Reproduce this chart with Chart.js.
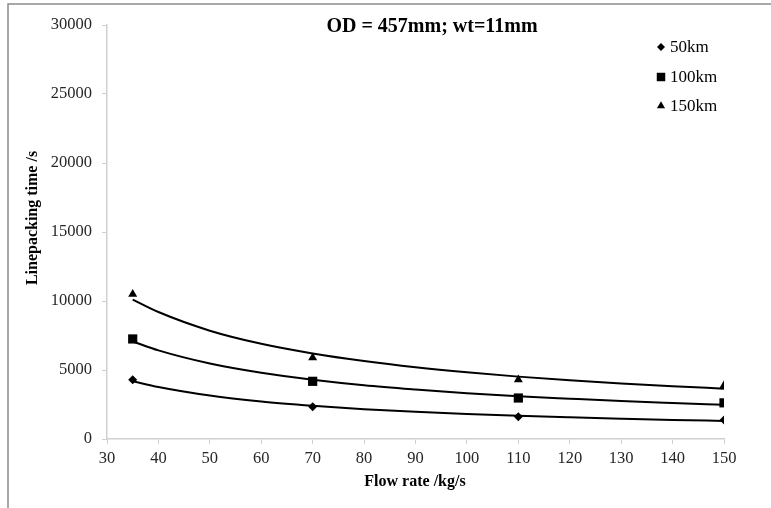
<!DOCTYPE html>
<html>
<head>
<meta charset="utf-8">
<script src="https://cdn.jsdelivr.net/npm/chart.js@4/dist/chart.umd.min.js"></script>
<style>
  html, body { margin: 0; padding: 0; background: #fff; }
  #wrap { width: 771px; height: 508px; position: relative; }
</style>
</head>
<body>
<div id="wrap"><canvas id="linepackChart" width="771" height="508"></canvas></div>
<script>
/**measured flow rates, kg/s */
const flowRates = [35, 70, 110, 150];
/**linepacking time per pipeline length, s */
const time50km = [4300, 2330, 1620, 1370];
const time100km = [7250, 4180, 2970, 2620];
const time150km = [10500, 5900, 4300, 3880];
/**trend curves */
const trendX = [35, 40, 50, 60, 70, 80, 90, 100, 110, 120, 130, 140, 150];
const trend50km = [4190, 3770, 3150, 2720, 2410, 2160, 1970, 1810, 1680, 1570, 1470, 1380, 1310];
const trend100km = [7070, 6420, 5470, 4800, 4300, 3900, 3590, 3320, 3100, 2920, 2750, 2610, 2480];
const trend150km = [10100, 9200, 7850, 6900, 6200, 5650, 5200, 4830, 4520, 4250, 4020, 3820, 3650];
const seriesLabels = ["50km", "100km", "150km"];
const xTicks = [30, 40, 50, 60, 70, 80, 90, 100, 110, 120, 130, 140, 150];
const yTicks = [0, 5000, 10000, 15000, 20000, 25000, 30000];
const chartTitle = "OD = 457mm; wt=11mm";
const xTitle = "Flow rate /kg/s";
const yTitle = "Linepacking time /s";

const FONT = "'Liberation Serif', 'Times New Roman', serif";
const markerStyles = [
    { pointStyle: "rectRot", radius: 4.5 },
    { pointStyle: "rect", radius: 6.5 },
    { pointStyle: "triangle", radius: 5.2 },
];

const toPoints = (xs, ys) => xs.map((x, i) => ({ x: x, y: ys[i] }));

function trendSet(ys) {
    return {
        type: "line",
        data: toPoints(trendX, ys),
        borderColor: "#000",
        borderWidth: 2,
        pointRadius: 0,
        fill: false,
        cubicInterpolationMode: "monotone",
        order: 2,
    };
}

function markerSet(ys, i) {
    return {
        label: seriesLabels[i],
        data: toPoints(flowRates, ys),
        showLine: false,
        backgroundColor: "#000",
        borderColor: "#000",
        borderWidth: 0,
        pointStyle: markerStyles[i].pointStyle,
        pointRadius: markerStyles[i].radius,
        order: 1,
    };
}

/**draws the frame, title, axis titles and legend at fixed spots */
const decorations = {
    id: "decorations",
    beforeDraw(chart) {
        const c = chart.ctx;
        c.save();
        c.fillStyle = "#fff";
        c.fillRect(0, 0, chart.width, chart.height);
        c.strokeStyle = "#8c8c8c";
        c.lineWidth = 1.5;
        c.beginPath();
        c.moveTo(8, chart.height);
        c.lineTo(8, 4);
        c.lineTo(chart.width, 4);
        c.stroke();
        c.restore();
    },
    afterDraw(chart) {
        const c = chart.ctx;
        c.save();
        c.fillStyle = "#000";
        c.textAlign = "center";
        c.textBaseline = "middle";
        c.font = "bold 20px " + FONT;
        c.fillText(chartTitle, 432, 27);
        c.font = "bold 16px " + FONT;
        c.fillText(xTitle, 415, 482);
        c.translate(33, 218);
        c.rotate(-Math.PI / 2);
        c.fillText(yTitle, 0, 0);
        c.restore();

        c.save();
        c.font = "17px " + FONT;
        c.textAlign = "left";
        c.textBaseline = "middle";
        const rows = [47, 77, 106];
        seriesLabels.forEach((label, i) => {
            c.fillStyle = "#000";
            c.strokeStyle = "#000";
            c.lineWidth = 0;
            Chart.helpers.drawPoint(c, {
                pointStyle: markerStyles[i].pointStyle,
                radius: markerStyles[i].radius - 0.5,
                borderWidth: 0,
                rotation: 0,
            }, 661, rows[i]);
            c.fillText(label, 670, rows[i] + 1);
        });
        c.restore();
    },
};

const ctx = document.getElementById("linepackChart").getContext("2d");
const linepackChart = new Chart(ctx, {
    type: "scatter",
    data: {
        datasets: [
            trendSet(trend50km),
            trendSet(trend100km),
            trendSet(trend150km),
            markerSet(time50km, 0),
            markerSet(time100km, 1),
            markerSet(time150km, 2),
        ],
    },
    options: {
        animation: false,
        responsive: false,
        devicePixelRatio: 1,
        layout: { padding: { top: 25, right: 47, bottom: 0, left: 0 } },
        plugins: { legend: { display: false }, title: { display: false }, tooltip: { enabled: false } },
        scales: {
            x: {
                type: "linear",
                min: 30,
                max: 150,
                afterBuildTicks: (axis) => { axis.ticks = xTicks.map((v) => ({ value: v })); },
                afterFit: (axis) => { axis.height = 69; },
                ticks: {
                    color: "#262626",
                    font: { family: FONT, size: 16.5 },
                    padding: 5,
                    callback: (v) => String(v),
                },
                grid: { drawOnChartArea: false, color: "#d0d0d0", tickLength: 5, lineWidth: 1 },
                border: { color: "#d0d0d0", width: 1.5 },
            },
            y: {
                type: "linear",
                min: 0,
                max: 30000,
                afterBuildTicks: (axis) => { axis.ticks = yTicks.map((v) => ({ value: v })); },
                afterFit: (axis) => { axis.width = 107; },
                ticks: {
                    color: "#262626",
                    font: { family: FONT, size: 16.5 },
                    padding: 10,
                    callback: (v) => String(v),
                },
                grid: { drawOnChartArea: false, color: "#d0d0d0", tickLength: 5, lineWidth: 1 },
                border: { color: "#d0d0d0", width: 1.5 },
            },
        },
    },
    plugins: [decorations],
});
</script>
</body>
</html>
